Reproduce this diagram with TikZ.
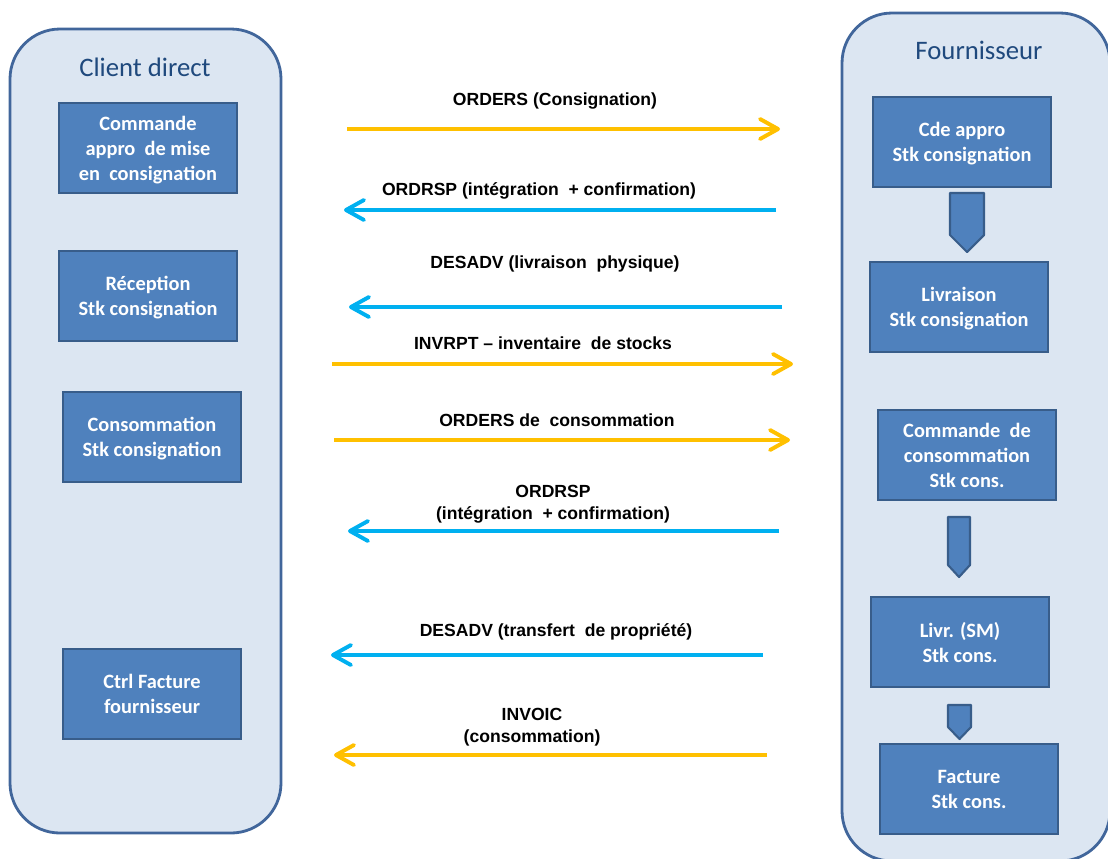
\documentclass[tikz,border=0pt]{standalone}
\usepackage{fontspec}
\setmainfont{Liberation Sans}
\newfontfamily\calibri{Carlito}
\usetikzlibrary{arrows.meta}

\definecolor{panelfill}{HTML}{DCE6F2}
\definecolor{panelline}{HTML}{41669B}
\definecolor{boxfill}{HTML}{4F81BD}
\definecolor{boxline}{HTML}{385D8A}
\definecolor{titleblue}{HTML}{1F497D}
\definecolor{msgyellow}{HTML}{FFC000}
\definecolor{msgblue}{HTML}{00B0F0}

\tikzset{
  panel/.style={draw=panelline, fill=panelfill, line width=2pt, rounded corners=1.25cm},
  stepbox/.style={draw=boxline, fill=boxfill, line width=1.5pt, text=white,
    minimum width=4.45cm, minimum height=2.25cm, inner sep=0pt, align=center,
    text depth=0pt, font=\calibri\bfseries\fontsize{14.5}{17.8}\selectfont},
  tab/.style={draw=boxline, fill=boxfill, line width=1.5pt, line join=round},
  title/.style={text=titleblue, font=\calibri\fontsize{19}{23}\selectfont},
  msglabel/.style={align=center, inner sep=0pt, font=\bfseries\fontsize{12.5}{16}\selectfont},
  msg/.style={line width=2.8pt, -{Straight Barb[length=0.45cm, width=0.5cm, round]}}
}

\begin{document}
\begin{tikzpicture}[x=0.025cm, y=-0.025cm]
    \clip (0,0) rectangle (1108,858);

    % Panels
    \draw[panel] (10,29) rectangle (281,833);
    \draw[panel] (842,13) rectangle (1110,861);
    \node[title] (client) at (145,67) {Client direct};
    \node[title] (fourn) at (979,50) {Fournisseur};

    % Client boxes
    \node[stepbox] (cl1) at (148,148) {Commande\\appro~ de mise\\en~ consignation};
    \node[stepbox] (cl2) at (148,296) {Réception\\Stk consignation};
    \node[stepbox] (cl3) at (152,437) {Consommation\\Stk consignation};
    \node[stepbox] (cl4) at (152,694) {Ctrl Facture\\fournisseur};

    % Fournisseur boxes
    \node[stepbox] (fo1) at (962,142) {Cde appro\\Stk consignation};
    \node[stepbox] (fo2) at (959,307) {Livraison\\Stk consignation};
    \node[stepbox] (fo3) at (967,455) {Commande~ de\\consommation\\Stk cons.};
    \node[stepbox] (fo4) at (960,642) {Livr. (SM)\\Stk cons.};
    \node[stepbox] (fo5) at (969,789) {Facture\\Stk cons.};

    % Down tabs
    \draw[tab] (950,193) -- (984,193) -- (984,235) -- (967,252) -- (950,235) -- cycle;
    \draw[tab] (948,517) -- (970,517) -- (970,565) -- (959,577) -- (948,565) -- cycle;
    \draw[tab] (948,705) -- (971,705) -- (971,727) -- (959.5,739) -- (948,727) -- cycle;

    % Message ends
    \coordinate (m1a) at (347,129); \coordinate (m1b) at (780,129);
    \coordinate (m2a) at (776,210); \coordinate (m2b) at (344,210);
    \coordinate (m3a) at (782,307); \coordinate (m3b) at (349,307);
    \coordinate (m4a) at (332,364); \coordinate (m4b) at (793,364);
    \coordinate (m5a) at (334,440); \coordinate (m5b) at (790,440);
    \coordinate (m6a) at (779,531); \coordinate (m6b) at (348,531);
    \coordinate (m7a) at (763,655); \coordinate (m7b) at (331,655);
    \coordinate (m8a) at (767,755); \coordinate (m8b) at (334,755);

    % Messages
    \draw[msg, msgyellow] (m1a) -- (m1b);
    \node[msglabel] (l1) at (555,101) {ORDERS (Consignation)};

    \draw[msg, msgblue] (m2a) -- (m2b);
    \node[msglabel] (l2) at (539,191) {ORDRSP (intégration~ + confirmation)};

    \draw[msg, msgblue] (m3a) -- (m3b);
    \node[msglabel] (l3) at (555,264) {DESADV (livraison~ physique)};

    \draw[msg, msgyellow] (m4a) -- (m4b);
    \node[msglabel] (l4) at (543,343) {INVRPT – inventaire~ de stocks};

    \draw[msg, msgyellow] (m5a) -- (m5b);
    \node[msglabel] (l5) at (557,420) {ORDERS de~ consommation};

    \draw[msg, msgblue] (m6a) -- (m6b);
    \node[msglabel] (l6) at (553,504) {ORDRSP\\(intégration~ + confirmation)};

    \draw[msg, msgblue] (m7a) -- (m7b);
    \node[msglabel] (l7) at (556,632) {DESADV (transfert~ de propriété)};

    \draw[msg, msgyellow] (m8a) -- (m8b);
    \node[msglabel] (l8) at (532,727) {INVOIC\\(consommation)};
\end{tikzpicture}
\end{document}
